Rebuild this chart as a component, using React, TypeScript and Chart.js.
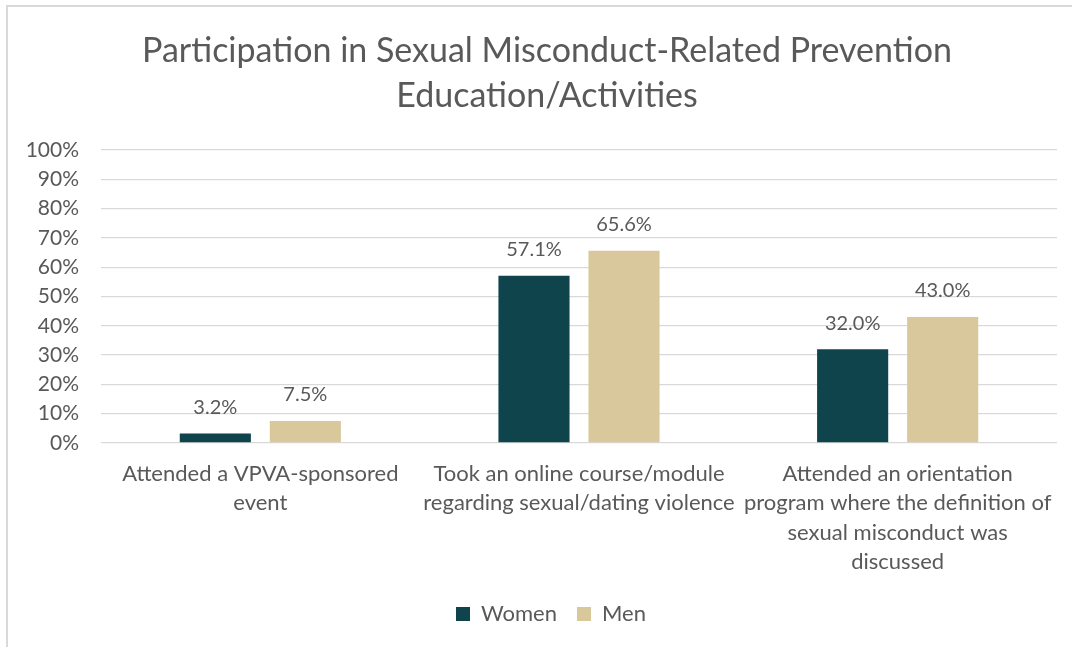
import React, { useEffect, useRef } from "react";
import { Chart, registerables } from "chart.js";

Chart.register(...registerables);

const categories: string[][] = [
  ["Attended a VPVA-sponsored", "event"],
  ["Took an online course/module", "regarding sexual/dating violence"],
  ["Attended an orientation", "program where the definition of", "sexual misconduct was", "discussed"],
];
const women: number[] = [3.2, 57.1, 32.0];
const men: number[] = [7.5, 65.6, 43.0];
const seriesNames: string[] = ["Women", "Men"];
const titleLines: string[] = ["Participation in Sexual Misconduct-Related Prevention", "Education/Activities"];

const FONT = "Lato, 'Open Sans', sans-serif";
const TEXT = "#595959";

export default function App() {
  const ref = useRef<HTMLCanvasElement | null>(null);
  useEffect(() => {
    if (!ref.current) return;
    const titlePlugin = {
      id: "customTitle",
      afterDraw(chart: any) {
        const ctx = chart.ctx;
        ctx.save();
        ctx.fillStyle = TEXT;
        ctx.font = `34px ${FONT}`;
        ctx.textAlign = "center";
        ctx.textBaseline = "middle";
        titleLines.forEach((t, i) => ctx.fillText(t, 547, 51 + i * 45));
        ctx.restore();
      },
    };
    const legendShift = {
      id: "legendShift",
      afterLayout(chart: any) {
        if (chart.legend) chart.legend.left += 45;
      },
    };
    const labelPlugin = {
      id: "dataLabels",
      afterDatasetsDraw(chart: any) {
        const ctx = chart.ctx;
        ctx.save();
        ctx.fillStyle = TEXT;
        ctx.font = `20px ${FONT}`;
        ctx.textAlign = "center";
        ctx.textBaseline = "middle";
        chart.data.datasets.forEach((ds: any, di: number) => {
          const meta = chart.getDatasetMeta(di);
          meta.data.forEach((el: any, i: number) => {
            ctx.fillText(ds.data[i].toFixed(1) + "%", el.x, el.y - 26);
          });
        });
        ctx.restore();
      },
    };
    const chart = new Chart(ref.current, {
      type: "bar",
      data: {
        labels: categories,
        datasets: [
          { label: seriesNames[0], data: women, backgroundColor: "#0F444C", categoryPercentage: 0.565, barPercentage: 0.79 },
          { label: seriesNames[1], data: men, backgroundColor: "#D8C89C", categoryPercentage: 0.565, barPercentage: 0.79 },
        ],
      },
      options: {
        responsive: false,
        animation: false,
        devicePixelRatio: 1,
        layout: { padding: { top: 150, left: 0, right: 15, bottom: 12 } },
        plugins: {
          title: { display: false },
          tooltip: { enabled: false },
          legend: {
            display: true,
            position: "bottom",
            labels: {
              boxWidth: 14,
              boxHeight: 14,
              color: TEXT,
              font: { family: FONT, size: 22 },
              padding: 20,
            },
          },
        },
        scales: {
          x: {
            grid: { display: false, drawTicks: false },
            border: { display: false },
            ticks: {
              color: TEXT,
              font: { family: FONT, size: 22, lineHeight: 1.34 },
              maxRotation: 0,
              minRotation: 0,
              autoSkip: false,
              padding: 16,
            },
            afterFit(scale: any) {
              scale.height = 140;
            },
          },
          y: {
            min: 0,
            max: 100,
            grid: { color: "#d9d9d9", lineWidth: 1.3, drawTicks: false },
            border: { display: false },
            ticks: {
              stepSize: 10,
              color: TEXT,
              font: { family: FONT, size: 21 },
              padding: 22,
              callback: (v: any) => v + "%",
            },
            afterFit(scale: any) {
              scale.width = 101;
            },
          },
        },
      },
      plugins: [titlePlugin, labelPlugin, legendShift],
    });
    return () => chart.destroy();
  }, []);
  return (
    <div style={{ position: "absolute", left: 0, top: 0, width: 1072, height: 647, overflow: "hidden", background: "#fff" }}>
      <div style={{ position: "absolute", left: 6, top: 5, width: 1200, height: 800, border: "2px solid #d9d9d9" }} />
      <canvas ref={ref} width={1072} height={647} style={{ position: "absolute", left: 0, top: 0 }} />
    </div>
  );
}
